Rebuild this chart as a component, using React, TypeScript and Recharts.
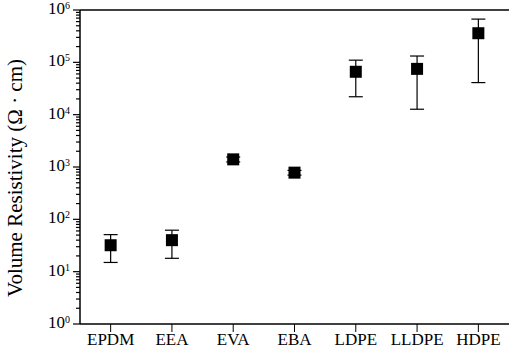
import React from "react";
import {
  ComposedChart,
  Scatter,
  ErrorBar,
  XAxis,
  YAxis,
  ReferenceLine,
} from "recharts";

const categories = ["EPDM", "EEA", "EVA", "EBA", "LDPE", "LLDPE", "HDPE"];
const resistivity = [32, 40, 1400, 780, 66000, 75000, 360000];
const lowerBound = [15, 18, 1250, 700, 22000, 12700, 41000];
const upperBound = [51, 62, 1550, 860, 110000, 132000, 670000];
const decadeExponents = [0, 1, 2, 3, 4, 5, 6];

const data = categories.map((name, i) => ({
  name,
  value: resistivity[i],
  err: [resistivity[i] - lowerBound[i], upperBound[i] - resistivity[i]],
}));

const yTicks: number[] = [];
decadeExponents.forEach((e) => {
  const base = Math.pow(10, e);
  if (e === 6) {
    yTicks.push(base);
  } else {
    for (let m = 1; m <= 9; m++) yTicks.push(m * base);
  }
});

const FONT = "'Liberation Serif', 'DejaVu Serif', serif";

const YTick = (props: any) => {
  const { x, y, payload } = props;
  const v = payload.value;
  const exp = Math.log10(v);
  const major = Math.abs(exp - Math.round(exp)) < 1e-6;
  return (
    <g>
      <line x1={x - (major ? 7 : 4)} x2={x} y1={y} y2={y} stroke="#000" strokeWidth={1.2} />
      {major && (
        <text
          x={x - 10}
          y={y + 4}
          textAnchor="end"
          fontFamily={FONT}
          fontSize={17}
          fill="#000"
        >
          10
          <tspan dy={-5} fontSize={10}>
            {Math.round(exp)}
          </tspan>
        </text>
      )}
    </g>
  );
};

const XTick = (props: any) => {
  const { x, y, payload } = props;
  return (
    <text
      x={x}
      y={y + 11}
      textAnchor="middle"
      fontFamily={FONT}
      fontSize={17}
      fill="#000"
    >
      {payload.value}
    </text>
  );
};

const Square = (props: any) => {
  const { cx, cy } = props;
  if (cx == null || cy == null) return null;
  return <rect x={cx - 6} y={cy - 6} width={12} height={12} fill="#000" />;
};

export default function App() {
  return (
    <div style={{ position: "absolute", left: 0, top: 0, background: "#fff" }}>
      <ComposedChart
        width={509}
        height={348}
        data={data}
        margin={{ top: 10, right: 0, bottom: 0, left: 0 }}
      >
        <XAxis
          dataKey="name"
          type="category"
          scale="band"
          height={24}
          tickSize={8}
          tickMargin={2}
          interval={0}
          tick={<XTick />}
          axisLine={{ stroke: "#000", strokeWidth: 1.5 }}
          tickLine={{ stroke: "#000", strokeWidth: 1 }}
        />
        <YAxis
          type="number"
          scale="log"
          domain={[1, 1000000]}
          allowDataOverflow
          ticks={yTicks}
          interval={0}
          width={80}
          tickSize={0}
          tickMargin={0}
          tick={<YTick />}
          tickLine={false}
          axisLine={{ stroke: "#000", strokeWidth: 1.5 }}
          label={{
            content: () => (
              <text
                transform="translate(22,178) rotate(-90)"
                textAnchor="middle"
                fontFamily={FONT}
                fontSize={21}
                fill="#000"
              >
                Volume Resistivity (Ω · cm)
              </text>
            ),
          }}
        />
        <ReferenceLine y={1000000} stroke="#000" strokeWidth={1.5} ifOverflow="visible" />
        <Scatter dataKey="value" shape={<Square />} isAnimationActive={false}>
          <ErrorBar dataKey="err" direction="y" width={7} stroke="#000" strokeWidth={1.2} />
        </Scatter>
      </ComposedChart>
    </div>
  );
}
